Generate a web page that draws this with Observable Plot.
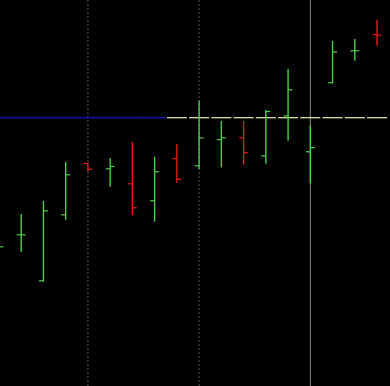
<!DOCTYPE html>
<html>
<head>
<meta charset="utf-8">
<script src="https://cdn.jsdelivr.net/npm/d3@7"></script>
<script src="https://cdn.jsdelivr.net/npm/@observablehq/plot@0.6"></script>
<style>
  html, body { margin: 0; padding: 0; background: #000; }
  #chart svg { display: block; overflow: hidden; }
</style>
</head>
<body>
<div id="chart"></div>
<script>
// OHLC bars, one per session index
const barIndex = [0, 1, 2, 3, 4, 5, 6, 7, 8, 9, 10, 11, 12, 13, 14, 15, 16, 17];
const opens  = [13.50, 15.17, 10.57, 17.17, 22.30, 21.77, 20.27, 18.57, 22.77, 22.07, 24.68, 24.87, 23.07, 27.07, 23.47, 30.38, 33.57, 35.20];
const highs  = [14.30, 17.20, 18.50, 22.40, 22.33, 22.77, 24.40, 22.90, 24.20, 28.53, 26.50, 26.50, 27.60, 31.70, 26.05, 34.50, 34.70, 36.60];
const lows   = [13.30, 13.43, 10.43, 16.62, 21.43, 19.93, 17.10, 16.43, 20.33, 21.70, 21.85, 22.13, 22.23, 24.53, 20.27, 30.25, 32.52, 34.03];
const closes = [13.97, 15.17, 17.57, 21.17, 21.73, 22.00, 17.87, 21.47, 20.73, 24.85, 24.85, 23.37, 27.50, 29.67, 23.88, 33.45, 33.57, 35.13];

// Session separators (the last one marks a new period)
const separatorIndex = [4, 9, 14];
const separatorMajor = [false, false, true];

// Reference level, drawn per bar: earlier part in blue, later part in pale yellow
const referenceLevel = 26.88;
const referenceSwitchIndex = 8;

const bars = barIndex.map((i, k) => ({
  i, open: opens[k], high: highs[k], low: lows[k], close: closes[k],
  up: closes[k] >= opens[k]
}));
const separators = separatorIndex.map((i, k) => ({i, major: separatorMajor[k]}));
const levelSegments = barIndex.map(i => ({
  i, level: referenceLevel, early: i < referenceSwitchIndex
}));

const UP = "#4ccf4c", DOWN = "#e41c1c";
const TICK = 0.2;   // open/close tick length, in bar units
const HALF = 0.45;  // half width of each reference-level segment

const chart = Plot.plot({
  width: 390,
  height: 386,
  margin: 0,
  style: {background: "#000", overflow: "hidden"},
  x: {type: "linear", domain: [0.069, 17.605], axis: null},
  y: {domain: [0, 38.6], axis: null},
  marks: [
    Plot.ruleX(separators.filter(d => !d.major), {
      x: "i", stroke: "#505050", strokeWidth: 1, strokeDasharray: "2,2"
    }),
    Plot.ruleX(separators.filter(d => d.major), {
      x: "i", stroke: "#8a8a8a", strokeWidth: 1
    }),
    Plot.link(levelSegments.filter(d => d.early), {
      x1: d => d.i - 0.5, x2: d => d.i + 0.5, y1: "level", y2: "level",
      stroke: "#1212a0", strokeWidth: 1.6, clip: true
    }),
    Plot.link(levelSegments.filter(d => !d.early), {
      x1: d => d.i - HALF, x2: d => d.i + HALF, y1: "level", y2: "level",
      stroke: "#f2f2b6", strokeWidth: 1.2, clip: true
    }),
    Plot.ruleX(bars, {
      x: "i", y1: "low", y2: "high",
      stroke: d => d.up ? UP : DOWN, strokeWidth: 1.4, clip: true
    }),
    Plot.link(bars, {
      x1: d => d.i - TICK, x2: "i", y1: "open", y2: "open",
      stroke: d => d.up ? UP : DOWN, strokeWidth: 1.2, clip: true
    }),
    Plot.link(bars, {
      x1: "i", x2: d => d.i + TICK, y1: "close", y2: "close",
      stroke: d => d.up ? UP : DOWN, strokeWidth: 1.2, clip: true
    })
  ]
});

document.getElementById("chart").appendChild(chart);
</script>
</body>
</html>
